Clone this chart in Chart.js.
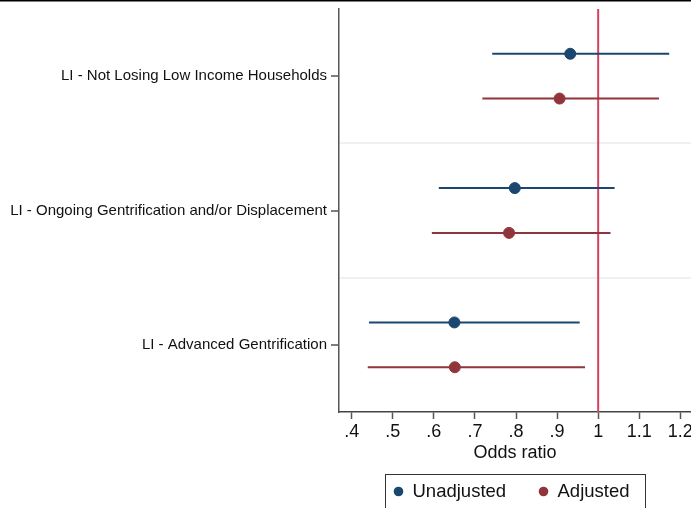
<!DOCTYPE html>
<html>
<head>
<meta charset="utf-8">
<script src="https://cdn.jsdelivr.net/npm/chart.js@4/dist/chart.umd.min.js"></script>
<style>
  html, body { margin: 0; padding: 0; background: #fff; }
  #wrap { width: 691px; height: 508px; position: relative; }
</style>
</head>
<body>
<div id="wrap"><canvas id="c" width="691" height="508"></canvas></div>
<script>
// ---- data ----
const categories = [
  'LI - Not Losing Low Income Households',
  'LI - Ongoing Gentrification and/or Displacement',
  'LI - Advanced Gentrification'
];
const seriesNames = ['Unadjusted', 'Adjusted'];
const unadjOR = [0.932, 0.797, 0.650];
const unadjLo = [0.742, 0.612, 0.442];
const unadjHi = [1.173, 1.040, 0.955];
const adjOR   = [0.906, 0.783, 0.651];
const adjLo   = [0.718, 0.595, 0.439];
const adjHi   = [1.148, 1.030, 0.968];
const xTicks = [0.4, 0.5, 0.6, 0.7, 0.8, 0.9, 1.0, 1.1, 1.2];
const xTickLabels = ['.4', '.5', '.6', '.7', '.8', '.9', '1', '1.1', '1.2'];
const refValue = 1;
const xAxisTitle = 'Odds ratio';

// ---- styling ----
const NAVY = '#1a476f';
const MAROON = '#90353b';
const RED = '#d9405f';
const FONT = "'Liberation Sans', Arial, Helvetica, sans-serif";

// group layout on the numeric y scale (0..9, reversed)
const centers = categories.map((_, i) => 1.5 + 3 * i);
const separators = [3, 6];
const yUn = centers.map(c => c - 0.5);
const yAd = centers.map(c => c + 0.5);

const datasets = [];
// CI lines
function ciDatasets(lo, hi, ys, color) {
  lo.forEach((l, i) => {
    datasets.push({
      type: 'line',
      data: [{x: l, y: ys[i]}, {x: hi[i], y: ys[i]}],
      borderColor: color,
      borderWidth: 2,
      pointRadius: 0,
      fill: false,
      order: 5
    });
  });
}
ciDatasets(unadjLo, unadjHi, yUn, NAVY);
ciDatasets(adjLo, adjHi, yAd, MAROON);
// reference line
datasets.push({
  type: 'line',
  data: [{x: refValue, y: 0}, {x: refValue, y: 9}],
  borderColor: RED,
  borderWidth: 2,
  pointRadius: 0,
  fill: false,
  order: 6
});
// points
datasets.push({
  type: 'scatter',
  label: seriesNames[0],
  data: unadjOR.map((v, i) => ({x: v, y: yUn[i]})),
  backgroundColor: NAVY,
  borderColor: NAVY,
  pointRadius: 5.5,
  order: 1
});
datasets.push({
  type: 'scatter',
  label: seriesNames[1],
  data: adjOR.map((v, i) => ({x: v, y: yAd[i]})),
  backgroundColor: MAROON,
  borderColor: MAROON,
  pointRadius: 5.5,
  order: 1
});

const framePlugin = {
  id: 'frame',
  afterDraw(chart) {
    const ctx = chart.ctx;
    ctx.save();
    // top border line
    ctx.fillStyle = '#000';
    ctx.fillRect(0, 0, chart.width, 1.5);
    // legend box
    const ca = chart.chartArea;
    const cx = (ca.left + ca.right) / 2;
    const boxW = 260, boxTop = 474, boxBot = 512;
    const bx = cx - boxW / 2;
    ctx.strokeStyle = '#333';
    ctx.lineWidth = 1;
    ctx.strokeRect(Math.round(bx) + 0.5, boxTop + 0.5, boxW, boxBot - boxTop);
    const items = [
      {label: seriesNames[0], color: NAVY, dot: bx + 13.5},
      {label: seriesNames[1], color: MAROON, dot: bx + 158.5}
    ];
    ctx.font = '18.5px ' + FONT;
    ctx.textBaseline = 'middle';
    ctx.textAlign = 'left';
    items.forEach(it => {
      ctx.fillStyle = it.color;
      ctx.beginPath();
      ctx.arc(it.dot, 491.5, 4.8, 0, Math.PI * 2);
      ctx.fill();
      ctx.fillStyle = '#111';
      ctx.fillText(it.label, it.dot + 14, 492);
    });
    ctx.restore();
  }
};

new Chart(document.getElementById('c'), {
  data: { datasets },
  plugins: [framePlugin],
  options: {
    responsive: false,
    animation: false,
    events: [],
    layout: { autoPadding: false, padding: { top: 9, left: 0, right: 0, bottom: 40 } },
    plugins: { legend: { display: false }, tooltip: { enabled: false } },
    scales: {
      x: {
        type: 'linear',
        min: 0.369,
        max: 1.226,
        afterBuildTicks: s => { s.ticks = xTicks.map(v => ({value: v})); },
        afterFit: s => { s.height = 56; s.paddingLeft = 0; s.paddingRight = 0; },
        ticks: {
          callback: (v) => { const i = xTicks.findIndex(t => Math.abs(t - v) < 1e-9); return i >= 0 ? xTickLabels[i] : ''; },
          font: { family: FONT, size: 18 },
          color: '#111',
          padding: 2,
          maxRotation: 0,
          autoSkip: false
        },
        grid: { drawOnChartArea: false, drawTicks: true, tickLength: 7, tickColor: '#555', tickWidth: 1.5 },
        border: { color: '#444', width: 1.5 },
        title: { display: true, text: xAxisTitle, font: { family: FONT, size: 18 }, color: '#111', padding: { top: 0, bottom: 4 } }
      },
      y: {
        type: 'linear',
        min: 0,
        max: 9,
        reverse: true,
        afterBuildTicks: s => { s.ticks = centers.concat(separators).sort((a, b) => a - b).map(v => ({value: v})); },
        afterFit: s => { s.width = 339; s.paddingTop = 0; s.paddingBottom = 0; },
        ticks: {
          callback: (v) => { const i = centers.indexOf(v); return i >= 0 ? categories[i] : ''; },
          font: { family: FONT, size: 15 },
          color: '#111',
          padding: 4,
          autoSkip: false
        },
        grid: {
          color: c => separators.includes(c.tick && c.tick.value) ? '#eef1f4' : 'rgba(0,0,0,0)',
          lineWidth: 2,
          drawTicks: true,
          tickLength: 8,
          tickColor: c => centers.includes(c.tick && c.tick.value) ? '#555' : 'rgba(0,0,0,0)',
          tickWidth: 1.5
        },
        border: { color: '#555', width: 1.5 }
      }
    }
  }
});
</script>
</body>
</html>
